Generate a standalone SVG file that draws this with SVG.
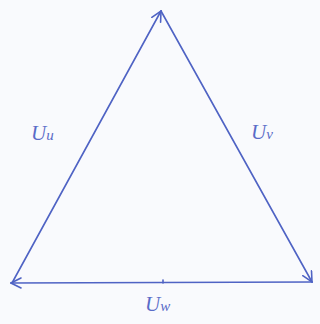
<svg xmlns="http://www.w3.org/2000/svg" width="320" height="324" viewBox="0 0 320 324">
<style>
.edge{stroke:#4f63c4;stroke-width:1.6;fill:none;stroke-linecap:round}
.lbl{font-family:"Liberation Serif",serif;font-style:italic;font-size:21px;fill:#5a6cc8}
.sub{font-size:15px}
</style>
<defs>
<marker id="ah" viewBox="0 0 12 12" refX="11" refY="6" markerWidth="12" markerHeight="12" markerUnits="userSpaceOnUse" orient="auto">
<path d="M1,1 L11,6 L1,11" fill="none" stroke="#4f63c4" stroke-width="1.6" stroke-linecap="round"/>
</marker>
</defs>
<rect width="320" height="324" fill="#f9fafd"/>
<g id="connectors">
<line id="e-u" class="edge" x1="12" y1="283" x2="161" y2="11" marker-end="url(#ah)"/>
<line id="e-v" class="edge" x1="161" y1="11" x2="312" y2="282" marker-end="url(#ah)"/>
<line id="e-w" class="edge" x1="312" y1="282" x2="11" y2="283" marker-end="url(#ah)"/>
<line class="edge" x1="163" y1="280" x2="163" y2="283"/>
</g>
<g id="label-u"><text class="lbl" x="31" y="140">U<tspan class="sub">u</tspan></text></g>
<g id="label-v"><text class="lbl" x="251" y="139">U<tspan class="sub">v</tspan></text></g>
<g id="label-w"><text class="lbl" x="145" y="311">U<tspan class="sub">w</tspan></text></g>
</svg>
